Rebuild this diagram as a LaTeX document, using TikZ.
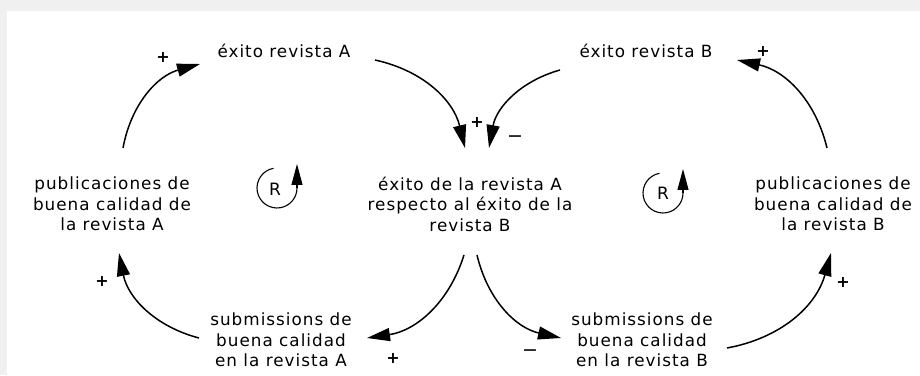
\documentclass[tikz,border=0pt]{standalone}
\usepackage{fontspec}
\setmainfont{DejaVu Sans}[LetterSpace=6]
\usetikzlibrary{arrows.meta}
\definecolor{bggray}{HTML}{F0F0F0}
\begin{document}
\begin{tikzpicture}[x=1pt,y=1pt,
  var/.style={align=center, font=\fontsize{16.8}{20.5}\selectfont, inner sep=0pt},
  link/.style={line width=1.5pt, -{Triangle[length=23pt,width=13pt]}},
  pol/.style={font=\bfseries\fontsize{16}{16}\selectfont, inner sep=0pt},
  neg/.style={font=\fontsize{19}{19}\selectfont, inner sep=0pt},
  loopc/.style={line width=1.1pt},
  looptip/.style={line width=1.1pt, -{Triangle[length=21pt,width=11pt]}},
  lbl/.style={font=\fontsize{17}{17}\selectfont, inner sep=0pt},
]
\useasboundingbox (0,0) rectangle (920,375);
\fill[bggray] (0,0) rectangle (920,375);
\fill[white] (7,0) rectangle (920,364);

% variables
\node[var] (eA) at (284,324) {éxito revista A};
\node[var] (eB) at (646,324) {éxito revista B};
\node[var] (ctr) at (470,171) {éxito de la revista A\\respecto al éxito de la\\revista B};
\node[var] (pubA) at (112,171) {publicaciones de\\buena calidad de\\la revista A};
\node[var] (pubB) at (833,171) {publicaciones de\\buena calidad de\\la revista B};
\node[var] (subA) at (281,35) {submissions de\\buena calidad\\en la revista A};
\node[var] (subB) at (642,35) {submissions de\\buena calidad\\en la revista B};

% connector end points
\coordinate (a1s) at (123,227); \coordinate (a1e) at (200,311);
\coordinate (a2s) at (375,315); \coordinate (a2e) at (465,227);
\coordinate (a3s) at (560,305); \coordinate (a3e) at (489,227);
\coordinate (a4s) at (827,227); \coordinate (a4e) at (737,315);
\coordinate (a5s) at (464,120); \coordinate (a5e) at (367,37);
\coordinate (a6s) at (477,120); \coordinate (a6e) at (561,37);
\coordinate (a7s) at (727,27);  \coordinate (a7e) at (831,122);
\coordinate (a8s) at (199,37);  \coordinate (a8e) at (119,122);

\draw[link] (a1s) to[bend left=32] (a1e);
\draw[link] (a2s) to[bend left=32] (a2e);
\draw[link] (a3s) to[bend right=32] (a3e);
\draw[link] (a4s) to[bend right=32] (a4e);
\draw[link] (a5s) to[bend left=32] (a5e);
\draw[link] (a6s) to[bend right=32] (a6e);
\draw[link] (a7s) to[bend right=32] (a7e);
\draw[link] (a8s) to[bend left=32] (a8e);

% polarities
\node[pol] (p1) at (163,318) {+};
\node[pol] (p2) at (477,253) {+};
\node[neg] (p3) at (515,236) {−};
\node[pol] (p4) at (763,324) {+};
\node[pol] (p5) at (393,17) {+};
\node[neg] (p6) at (530,22) {−};
\node[pol] (p7) at (843,93) {+};
\node[pol] (p8) at (102,94) {+};

% loop markers
\node[lbl] (r1) at (275,186) {R};
\draw[loopc] (277,187) ++(100:20) arc[start angle=100,end angle=360,radius=20] coordinate (l1e);
\draw[looptip] (l1e) -- ++(0,24);
\node[lbl] (r2) at (663,182) {R};
\draw[loopc] (663,182) ++(100:20) arc[start angle=100,end angle=360,radius=20] coordinate (l2e);
\draw[looptip] (l2e) -- ++(0,24);
\end{tikzpicture}
\end{document}
